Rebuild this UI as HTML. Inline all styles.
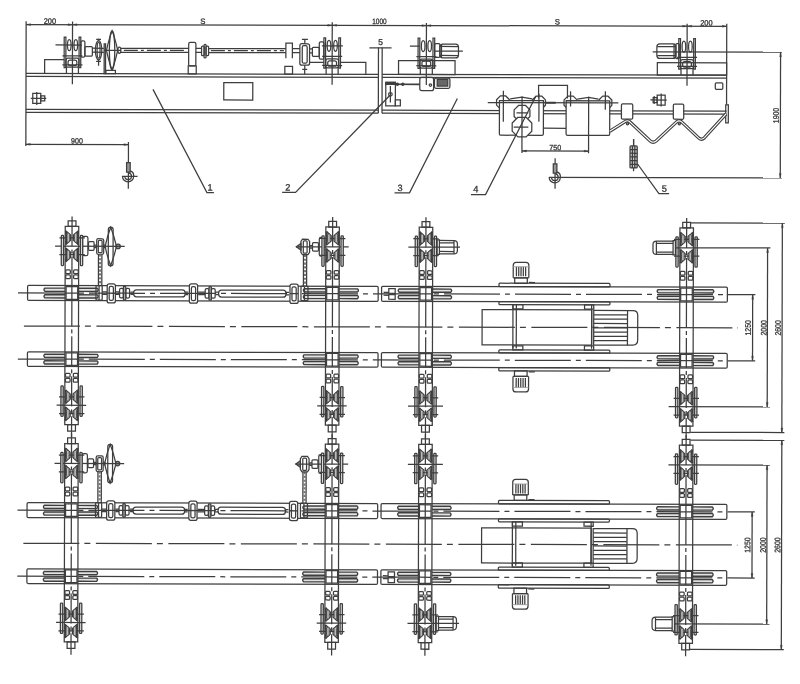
<!DOCTYPE html>
<html><head><meta charset="utf-8"><title>Crane drawing</title>
<style>
html,body{margin:0;padding:0;background:#fff;}
body{width:800px;height:684px;overflow:hidden;font-family:"Liberation Sans",sans-serif;}
svg{display:block;filter:grayscale(1) blur(0.35px);}
svg text{font-family:"Liberation Sans",sans-serif;fill:#333;stroke:#333;stroke-width:0.3;}
</style></head><body>
<svg width="800" height="684" viewBox="0 0 800 684">
<rect x="0" y="0" width="800" height="684" fill="#fff" stroke="none"/>
<g transform="rotate(0.14)" fill="none" stroke="#3e3e3e" stroke-width="1.25" stroke-linecap="butt">
<path d="M26.2 21.2L26.2 146"/>
<path d="M26.2 24.5L726.8 24.5"/>
<path d="M72.6 21.4L72.6 84"/>
<path d="M332.3 21.4L332.3 84"/>
<path d="M426.5 22L426.5 84"/>
<path d="M687.2 22L687.2 84"/>
<path d="M726.8 22L726.8 103"/>
<path d="M26.2 24.5L30.7 23.6L30.7 25.4Z" fill="#3e3e3e" stroke-width="0.4"/>
<path d="M72.6 24.5L68.1 25.4L68.1 23.6Z" fill="#3e3e3e" stroke-width="0.4"/>
<path d="M72.6 24.5L77.1 23.6L77.1 25.4Z" fill="#3e3e3e" stroke-width="0.4"/>
<path d="M332.3 24.5L327.8 25.4L327.8 23.6Z" fill="#3e3e3e" stroke-width="0.4"/>
<path d="M332.3 24.5L336.8 23.6L336.8 25.4Z" fill="#3e3e3e" stroke-width="0.4"/>
<path d="M426.5 24.5L422 25.4L422 23.6Z" fill="#3e3e3e" stroke-width="0.4"/>
<path d="M426.5 24.5L431 23.6L431 25.4Z" fill="#3e3e3e" stroke-width="0.4"/>
<path d="M687.2 24.5L682.7 25.4L682.7 23.6Z" fill="#3e3e3e" stroke-width="0.4"/>
<path d="M687.2 24.5L691.7 23.6L691.7 25.4Z" fill="#3e3e3e" stroke-width="0.4"/>
<path d="M726.8 24.5L722.3 25.4L722.3 23.6Z" fill="#3e3e3e" stroke-width="0.4"/>
<text x="50" y="23.6" font-size="7.8" text-anchor="middle" textLength="12.4" lengthAdjust="spacingAndGlyphs">200</text>
<text x="203" y="23.4" font-size="7.8" text-anchor="middle">S</text>
<text x="379.5" y="23.2" font-size="7.8" text-anchor="middle" textLength="14.4" lengthAdjust="spacingAndGlyphs">1000</text>
<text x="557.5" y="23.2" font-size="7.8" text-anchor="middle">S</text>
<text x="706.4" y="23.8" font-size="7.8" text-anchor="middle" textLength="12.4" lengthAdjust="spacingAndGlyphs">200</text>
<path d="M26.2 73.4L378.6 73.4"/>
<path d="M382.3 73.4L726.8 73.4"/>
<path d="M26.2 76.4L378.6 76.4"/>
<path d="M382.3 76.4L726.8 76.4"/>
<path d="M26.2 109.3L378.6 109.3"/>
<path d="M382.3 109.3L726.8 109.3"/>
<path d="M26.2 112.3L378.6 112.3"/>
<path d="M382.3 112.3L726.8 112.3"/>
<rect x="224" y="82" width="29" height="17.4"/>
<rect x="33" y="93.3" width="8" height="10"/>
<path d="M37 91.8L37 104.8"/>
<path d="M31 98.3L46.5 98.3"/>
<rect x="41" y="95.8" width="4" height="5"/>
<path d="M378.6 46.6L378.6 112.3"/>
<path d="M382.3 46.6L382.3 112.3"/>
<path d="M369.5 46.9L391.7 46.9"/>
<text x="380.6" y="44.2" font-size="8.4" text-anchor="middle">5</text>
<path d="M44.8 73.4V59.4H64.3"/>
<rect x="64.3" y="37" width="1.7" height="30.4"/>
<rect x="79.2" y="37" width="1.7" height="30.4"/>
<ellipse cx="69.4" cy="45" rx="1.8" ry="5.5"/>
<ellipse cx="75.9" cy="45" rx="1.8" ry="5.5"/>
<path d="M62.6 55.6L82.6 55.6"/>
<path d="M62.6 64.7L82.6 64.7"/>
<rect x="66.2" y="58" width="12.8" height="9" rx="2"/>
<rect x="68.2" y="60" width="8.8" height="5.4" rx="2"/>
<path d="M66.6 67L66.6 73.4"/>
<path d="M78.6 67L78.6 73.4"/>
<rect x="81" y="40.6" width="4" height="16.4" rx="1.5"/>
<rect x="85" y="46.4" width="7.5" height="9.4" rx="1"/>
<path d="M55.6 44.8L82 44.8"/>
<path d="M92.5 48L104 48"/>
<path d="M92.5 52L104 52"/>
<ellipse cx="98.7" cy="50" rx="3.2" ry="9.6"/>
<ellipse cx="98.7" cy="50" rx="1.5" ry="8"/>
<path d="M98.7 38.5L98.7 40.4"/>
<path d="M96.3 39.2L101.1 39.2"/>
<path d="M98.7 59.6L98.7 65.5"/>
<path d="M96.3 61.2L101.1 61.2"/>
<rect x="104.3" y="43.7" width="1.4" height="29.7"/>
<rect x="106" y="70" width="9.6" height="3.4"/>
<ellipse cx="112.2" cy="50" rx="2.7" ry="19.4"/>
<path d="M106.6 50Q109.2 38 112.2 30.6Q115.2 38 117.8 50Q115.2 62 112.2 69.4Q109.2 62 106.6 50Z"/>
<path d="M104 50L121 50"/>
<ellipse cx="119.5" cy="50" rx="1.5" ry="3.1"/>
<path d="M121 48L188.8 48"/>
<path d="M121 52L188.8 52"/>
<path d="M196 48L201.7 48"/>
<path d="M196 52L201.7 52"/>
<path d="M208.7 48L286 48"/>
<path d="M208.7 52L286 52"/>
<path d="M124 50L186 50" stroke-dasharray="14 3 3 3"/>
<path d="M211 50L284 50" stroke-dasharray="14 3 3 3"/>
<rect x="188.8" y="42" width="7.2" height="23.5" rx="1.5"/>
<rect x="188.4" y="65.5" width="8" height="7.9"/>
<rect x="201.7" y="45.6" width="2.6" height="9.6" rx="1"/>
<rect x="206.1" y="45.6" width="2.6" height="9.6" rx="1"/>
<rect x="204.2" y="43.8" width="2" height="13.6" rx="1"/>
<path d="M286 57.5V42.5H292.5V57.5"/>
<path d="M292.5 48L300 48"/>
<path d="M292.5 52L300 52"/>
<rect x="285" y="65.6" width="7.7" height="7.8"/>
<rect x="300" y="43" width="9.7" height="21.4" rx="2"/>
<rect x="302.4" y="45" width="4.9" height="17.4" rx="1.5"/>
<path d="M304.9 43L304.9 38.7"/>
<path d="M302 38.7L308 38.7"/>
<path d="M304.9 64.4L304.9 73.4"/>
<path d="M302.4 68.7L307.4 68.7"/>
<path d="M309.7 48L312.5 48"/>
<path d="M309.7 52L312.5 52"/>
<rect x="312.5" y="46.6" width="6.9" height="9" rx="1"/>
<rect x="319.4" y="41" width="4.6" height="17.4" rx="1.5"/>
<rect x="324" y="37" width="1.7" height="30.4"/>
<rect x="338.9" y="37" width="1.7" height="30.4"/>
<ellipse cx="329.1" cy="45" rx="1.8" ry="5.5"/>
<ellipse cx="335.6" cy="45" rx="1.8" ry="5.5"/>
<path d="M322.3 55.6L342.3 55.6"/>
<path d="M322.3 64.7L342.3 64.7"/>
<rect x="325.9" y="58" width="12.8" height="9" rx="2"/>
<rect x="327.9" y="60" width="8.8" height="5.4" rx="2"/>
<path d="M326.3 67L326.3 73.4"/>
<path d="M338.3 67L338.3 73.4"/>
<path d="M322 45L343 45"/>
<path d="M310 61.5L324 61.5"/>
<path d="M340.6 61.5H366V73.4"/>
<rect x="398.7" y="59.6" width="56.5" height="13.8"/>
<rect x="418.2" y="37" width="1.7" height="30.4"/>
<rect x="433.1" y="37" width="1.7" height="30.4"/>
<ellipse cx="423.3" cy="45" rx="1.8" ry="5.5"/>
<ellipse cx="429.8" cy="45" rx="1.8" ry="5.5"/>
<path d="M416.5 55.6L436.5 55.6"/>
<path d="M416.5 64.7L436.5 64.7"/>
<rect x="420.1" y="58" width="12.8" height="9" rx="2"/>
<rect x="422.1" y="60" width="8.8" height="5.4" rx="2"/>
<path d="M420.5 67L420.5 73.4"/>
<path d="M432.5 67L432.5 73.4"/>
<path d="M410 45L420 45"/>
<rect x="434.8" y="42.6" width="5.2" height="13.6" rx="1"/>
<rect x="440" y="43" width="18.6" height="13.8" rx="3"/>
<path d="M441.6 43L441.6 56.8"/>
<path d="M440 45.4L458.4 45.4"/>
<path d="M440 54.4L458.4 54.4"/>
<path d="M434 50L463 50"/>
<rect x="420" y="76.4" width="13.8" height="13.2" rx="2"/>
<rect x="434.7" y="77" width="15.4" height="10.2" rx="1.5"/>
<rect x="437.4" y="78.4" width="10.6" height="6.6" fill="#666"/>
<circle cx="430.6" cy="84" r="1.2"/>
<path d="M394 83.3L420 83.3" stroke-width="1.6"/>
<circle cx="397.6" cy="83.3" r="1.1" fill="#3e3e3e"/>
<circle cx="403" cy="83.3" r="1.1" fill="#3e3e3e"/>
<rect x="386" y="81.4" width="9.6" height="23.6"/>
<rect x="386" y="81.4" width="9.6" height="2" fill="#3e3e3e"/>
<path d="M390.6 85L390.6 101.5"/>
<circle cx="390.6" cy="93.4" r="1.8"/>
<rect x="395.6" y="99" width="5" height="6"/>
<rect x="657.5" y="61.1" width="69.3" height="12.3"/>
<rect x="678.9" y="37" width="1.7" height="30.4"/>
<rect x="693.8" y="37" width="1.7" height="30.4"/>
<ellipse cx="684" cy="45" rx="1.8" ry="5.5"/>
<ellipse cx="690.5" cy="45" rx="1.8" ry="5.5"/>
<path d="M677.2 55.6L697.2 55.6"/>
<path d="M677.2 64.7L697.2 64.7"/>
<rect x="680.8" y="58" width="12.8" height="9" rx="2"/>
<rect x="682.8" y="60" width="8.8" height="5.4" rx="2"/>
<path d="M681.2 67L681.2 73.4"/>
<path d="M693.2 67L693.2 73.4"/>
<rect x="676" y="42" width="3.4" height="15" rx="1"/>
<rect x="657" y="42.2" width="19" height="14.6" rx="3"/>
<path d="M674.2 42.2L674.2 56.8"/>
<path d="M657.4 45L676 45"/>
<path d="M657.4 54L676 54"/>
<path d="M652.8 50.3L782 50.3"/>
<rect x="715.5" y="81" width="7.5" height="6.5" rx="1"/>
<rect x="657.4" y="93.4" width="8" height="10"/>
<path d="M661.4 92L661.4 105"/>
<path d="M650.6 98.4L667 98.4"/>
<rect x="653.4" y="96" width="4" height="5"/>
<path d="M654.4 94.4L654.4 102.4"/>
<rect x="726" y="103" width="2.6" height="18"/>
<path d="M538.8 97V84.1H567.7V97"/>
<path d="M509.8 103.9L506 107.7L500.6 107.7L496.8 103.9L496.8 98.5L500.6 94.7L506 94.7L509.8 98.5Z" stroke-linejoin="round"/>
<path d="M545.7 103.9L541.9 107.7L536.5 107.7L532.7 103.9L532.7 98.5L536.5 94.7L541.9 94.7L545.7 98.5Z" stroke-linejoin="round"/>
<path d="M577.3 103.9L573.5 107.7L568.1 107.7L564.3 103.9L564.3 98.5L568.1 94.7L573.5 94.7L577.3 98.5Z" stroke-linejoin="round"/>
<path d="M612.1 103.9L608.3 107.7L602.9 107.7L599.1 103.9L599.1 98.5L602.9 94.7L608.3 94.7L612.1 98.5Z" stroke-linejoin="round"/>
<path d="M499.7 99.3H543.7V132.4Q543.7 134 542.1 134H501.3Q499.7 134 499.7 132.4Z" fill="#fff"/>
<path d="M566.4 99.3H610V132.4Q610 134 608.4 134H568Q566.4 134 566.4 132.4Z" fill="#fff"/>
<path d="M510.4 97.6L522.2 95.9L532.4 97.6"/>
<path d="M577.6 97.6L588.9 95.9L598.6 97.6"/>
<path d="M503.6 89.6L503.6 120.4"/>
<path d="M539.2 92.4L539.2 120.4"/>
<path d="M570.8 89.8L570.8 105.2"/>
<path d="M605.6 89.8L605.6 108.2"/>
<path d="M488 101.4L618.6 101.4"/>
<path d="M543.7 126.9L566.4 126.9"/>
<path d="M546 101.4L556 101.4" stroke-width="1.9"/>
<path d="M530.2 115.2L525.6 119.8L519 119.8L514.4 115.2L514.4 108.6L519 104L525.6 104L530.2 108.6Z" stroke-linejoin="round"/>
<path d="M532.1 129.9L526.4 135.6L518.2 135.6L512.5 129.9L512.5 121.7L518.2 116L526.4 116L532.1 121.7Z" fill="#fff" stroke-linejoin="round"/>
<path d="M516.8 111.7L528.6 111.7"/>
<path d="M514 125.8L528.6 125.8"/>
<path d="M522.3 95.2L522.3 151.7"/>
<path d="M588.9 95.2L588.9 151.7"/>
<path d="M522.4 149.7L589 149.7"/>
<path d="M522.4 149.7L526.9 148.8L526.9 150.6Z" fill="#3e3e3e" stroke-width="0.4"/>
<path d="M589 149.7L584.5 150.6L584.5 148.8Z" fill="#3e3e3e" stroke-width="0.4"/>
<text x="555.6" y="148.9" font-size="7.8" text-anchor="middle" textLength="11.8" lengthAdjust="spacingAndGlyphs">750</text>
<path d="M610 129.8L625.4 120Q627.6 118.4 629.8 120L650.6 139.4Q653.4 141.8 656.4 139.4L677.2 120Q679.4 118.4 681.6 120L699.2 136.4Q702 138.8 704.8 136L726.4 112" stroke-width="3.3" stroke-linejoin="round"/>
<path d="M610 129.8L625.4 120Q627.6 118.4 629.8 120L650.6 139.4Q653.4 141.8 656.4 139.4L677.2 120Q679.4 118.4 681.6 120L699.2 136.4Q702 138.8 704.8 136L726.4 112" stroke-width="1.1" stroke="#fff" stroke-linejoin="round"/>
<rect x="621.7" y="102.4" width="11.3" height="15.2" rx="1.2" fill="#fff"/>
<rect x="673.6" y="102.4" width="10.4" height="15.2" rx="1.2" fill="#fff"/>
<circle cx="627.8" cy="122.2" r="1.1"/>
<circle cx="679.6" cy="122.2" r="1.1"/>
<path d="M634 137.4L634 144.4" stroke-width="1.4"/>
<rect x="630.4" y="144.4" width="7.2" height="22" rx="1" fill="#ccc"/>
<path d="M632.8 144.4L632.8 166.4"/>
<path d="M635.2 144.4L635.2 166.4"/>
<path d="M630.4 148.1L637.6 148.1"/>
<path d="M630.4 151.7L637.6 151.7"/>
<path d="M630.4 155.4L637.6 155.4"/>
<path d="M630.4 159.1L637.6 159.1"/>
<path d="M630.4 162.8L637.6 162.8"/>
<path d="M634 166.4L634 169.6"/>
<path d="M555.5 156.8L555.5 187.5"/>
<rect x="553.7" y="162.4" width="3.6" height="9.4" fill="#999"/>
<path d="M549.6 176A5.6 5.6 0 0 0 560.8 176Q561.1 171.6 557.3 170.6"/>
<path d="M552 176A3.3 3.3 0 0 0 558.6 176Q558.7 173.4 555.9 172.6"/>
<path d="M549.4 176L782.4 176"/>
<path d="M780.7 50.3L780.7 176"/>
<path d="M780.7 50.3L781.6 54.8L779.8 54.8Z" fill="#3e3e3e" stroke-width="0.4"/>
<path d="M780.7 176L779.8 171.5L781.6 171.5Z" fill="#3e3e3e" stroke-width="0.4"/>
<text x="779" y="113.6" font-size="8" text-anchor="middle" transform="rotate(-90 779 113.6)" textLength="15.4" lengthAdjust="spacingAndGlyphs">1900</text>
<path d="M128.8 141.7L128.8 188.5"/>
<rect x="127" y="162.4" width="3.6" height="9.4" fill="#999"/>
<path d="M122.9 176A5.6 5.6 0 0 0 134.1 176Q134.4 171.6 130.6 170.6"/>
<path d="M125.3 176A3.3 3.3 0 0 0 131.9 176Q132 173.4 129.2 172.6"/>
<path d="M26.2 144.3L128.8 144.3"/>
<path d="M26.2 144.3L30.7 143.4L30.7 145.2Z" fill="#3e3e3e" stroke-width="0.4"/>
<path d="M128.8 144.3L124.3 145.2L124.3 143.4Z" fill="#3e3e3e" stroke-width="0.4"/>
<text x="77.3" y="143.4" font-size="7.8" text-anchor="middle" textLength="11.8" lengthAdjust="spacingAndGlyphs">900</text>
<path d="M122.4 176L138 176"/>
<path d="M153.2 89L207.4 192H214.4"/>
<text x="210.6" y="189.9" font-size="9.2" text-anchor="middle">1</text>
<path d="M390 94.6L296 191.7H282.6"/>
<text x="288.2" y="189.9" font-size="9.2" text-anchor="middle">2</text>
<path d="M457.6 97.4L410 191.9H395"/>
<text x="400.6" y="190.1" font-size="9.2" text-anchor="middle">3</text>
<path d="M536.2 94.6L486 193.4H471.4"/>
<text x="476.4" y="191" font-size="9.2" text-anchor="middle">4</text>
<path d="M637.8 162.2L659.4 192.1H669.6"/>
<text x="664.9" y="190.2" font-size="9.2" text-anchor="middle">5</text>
<g transform="translate(0.7 0)">
<rect x="27.6" y="285.4" width="350.6" height="15" rx="1.2"/>
<rect x="381.6" y="285.4" width="345.8" height="15" rx="1.2"/>
<rect x="27.6" y="351.7" width="350.6" height="14.6" rx="1.2"/>
<rect x="381.6" y="351.7" width="345.8" height="14.6" rx="1.2"/>
<path d="M18 292.9L755.4 292.9" stroke-dasharray="56 5 5 5"/>
<path d="M18 359L755.4 359" stroke-dasharray="56 5 5 5"/>
<path d="M24 326L738 326" stroke-dasharray="56 5 6 5.5"/>
<rect x="388.8" y="287.7" width="6.4" height="4.6"/>
<rect x="388.8" y="293.7" width="6.4" height="4.6"/>
<path d="M383.6 291.5L388.8 291.5"/>
<path d="M383.6 294.3L388.8 294.3"/>
<path d="M65.1 288H44.9Q43.1 289.6 44.9 291.2H65.1" stroke-width="1.4" fill="#e2e2e2"/>
<path d="M78.6 288H97.3Q99.1 289.6 97.3 291.2H78.6" stroke-width="1.4" fill="#e2e2e2"/>
<path d="M65.1 294.6H44.9Q43.1 296.2 44.9 297.8H65.1" stroke-width="1.4" fill="#e2e2e2"/>
<path d="M78.6 294.6H97.3Q99.1 296.2 97.3 297.8H78.6" stroke-width="1.4" fill="#e2e2e2"/>
<path d="M65.1 354.1H44.9Q43.1 355.7 44.9 357.3H65.1" stroke-width="1.4" fill="#e2e2e2"/>
<path d="M78.6 354.1H97.3Q99.1 355.7 97.3 357.3H78.6" stroke-width="1.4" fill="#e2e2e2"/>
<path d="M65.1 360.7H44.9Q43.1 362.3 44.9 363.9H65.1" stroke-width="1.4" fill="#e2e2e2"/>
<path d="M78.6 360.7H97.3Q99.1 362.3 97.3 363.9H78.6" stroke-width="1.4" fill="#e2e2e2"/>
<path d="M325.8 288H304.3Q302.5 289.6 304.3 291.2H325.8" stroke-width="1.4" fill="#e2e2e2"/>
<path d="M339.2 288H357.5Q359.3 289.6 357.5 291.2H339.2" stroke-width="1.4" fill="#e2e2e2"/>
<path d="M325.8 294.6H304.3Q302.5 296.2 304.3 297.8H325.8" stroke-width="1.4" fill="#e2e2e2"/>
<path d="M339.2 294.6H357.5Q359.3 296.2 357.5 297.8H339.2" stroke-width="1.4" fill="#e2e2e2"/>
<path d="M325.8 354.1H304.3Q302.5 355.7 304.3 357.3H325.8" stroke-width="1.4" fill="#e2e2e2"/>
<path d="M339.2 354.1H357.5Q359.3 355.7 357.5 357.3H339.2" stroke-width="1.4" fill="#e2e2e2"/>
<path d="M325.8 360.7H304.3Q302.5 362.3 304.3 363.9H325.8" stroke-width="1.4" fill="#e2e2e2"/>
<path d="M339.2 360.7H357.5Q359.3 362.3 357.5 363.9H339.2" stroke-width="1.4" fill="#e2e2e2"/>
<path d="M419.1 288H399.1Q397.3 289.6 399.1 291.2H419.1" stroke-width="1.4" fill="#e2e2e2"/>
<path d="M432.6 288H450.7Q452.5 289.6 450.7 291.2H432.6" stroke-width="1.4" fill="#e2e2e2"/>
<path d="M419.1 294.6H399.1Q397.3 296.2 399.1 297.8H419.1" stroke-width="1.4" fill="#e2e2e2"/>
<path d="M432.6 294.6H450.7Q452.5 296.2 450.7 297.8H432.6" stroke-width="1.4" fill="#e2e2e2"/>
<path d="M419.1 354.1H399.1Q397.3 355.7 399.1 357.3H419.1" stroke-width="1.4" fill="#e2e2e2"/>
<path d="M432.6 354.1H450.7Q452.5 355.7 450.7 357.3H432.6" stroke-width="1.4" fill="#e2e2e2"/>
<path d="M419.1 360.7H399.1Q397.3 362.3 399.1 363.9H419.1" stroke-width="1.4" fill="#e2e2e2"/>
<path d="M432.6 360.7H450.7Q452.5 362.3 450.7 363.9H432.6" stroke-width="1.4" fill="#e2e2e2"/>
<path d="M679.8 288H658.1Q656.3 289.6 658.1 291.2H679.8" stroke-width="1.4" fill="#e2e2e2"/>
<path d="M693.2 288H712.9Q714.7 289.6 712.9 291.2H693.2" stroke-width="1.4" fill="#e2e2e2"/>
<path d="M679.8 294.6H658.1Q656.3 296.2 658.1 297.8H679.8" stroke-width="1.4" fill="#e2e2e2"/>
<path d="M693.2 294.6H712.9Q714.7 296.2 712.9 297.8H693.2" stroke-width="1.4" fill="#e2e2e2"/>
<path d="M679.8 354.1H658.1Q656.3 355.7 658.1 357.3H679.8" stroke-width="1.4" fill="#e2e2e2"/>
<path d="M693.2 354.1H712.9Q714.7 355.7 712.9 357.3H693.2" stroke-width="1.4" fill="#e2e2e2"/>
<path d="M679.8 360.7H658.1Q656.3 362.3 658.1 363.9H679.8" stroke-width="1.4" fill="#e2e2e2"/>
<path d="M693.2 360.7H712.9Q714.7 362.3 712.9 363.9H693.2" stroke-width="1.4" fill="#e2e2e2"/>
<rect x="499" y="282" width="111" height="3.4" rx="1"/>
<rect x="499" y="300.4" width="111" height="3" rx="1"/>
<rect x="499" y="348.7" width="111" height="3" rx="1"/>
<rect x="499" y="366.3" width="111" height="3.4" rx="1"/>
<rect x="514.7" y="276.5" width="12.6" height="5.5"/>
<path d="M513.2 276.5V264Q513.2 261 516.2 261H525.8Q528.8 261 528.8 264V276.5"/>
<path d="M513.2 276.5L528.8 276.5"/>
<path d="M516.4 275L516.4 265.5"/>
<path d="M518.7 275L518.7 265.5"/>
<path d="M521 275L521 265.5"/>
<path d="M523.3 275L523.3 265.5"/>
<path d="M525.6 275L525.6 265.5"/>
<path d="M513.2 265.5L528.8 265.5" stroke-width="0.8" stroke="#999"/>
<rect x="514.7" y="369.7" width="12.6" height="5.5"/>
<path d="M513.2 375.2V387.7Q513.2 390.7 516.2 390.7H525.8Q528.8 390.7 528.8 387.7V375.2"/>
<path d="M513.2 375.2L528.8 375.2"/>
<path d="M516.4 376.7L516.4 386.2"/>
<path d="M518.7 376.7L518.7 386.2"/>
<path d="M521 376.7L521 386.2"/>
<path d="M523.3 376.7L523.3 386.2"/>
<path d="M525.6 376.7L525.6 386.2"/>
<path d="M513.2 386.2L528.8 386.2" stroke-width="0.8" stroke="#999"/>
<path d="M529 281.2L535 281.2"/>
<path d="M529 370.5L535 370.5"/>
<rect x="513" y="303.4" width="10" height="4.2"/>
<rect x="584.6" y="303.4" width="9.2" height="4.2"/>
<rect x="513" y="344.5" width="10" height="4.2"/>
<rect x="584.6" y="344.5" width="9.2" height="4.2"/>
<rect x="482.2" y="308.4" width="109.6" height="35.2"/>
<path d="M513 303.4L513 347.2"/>
<path d="M516.4 303.4L516.4 347.2"/>
<path d="M591.7 303.4L591.7 347.2"/>
<path d="M593.8 308.4L593.8 343.6"/>
<path d="M593.8 309H633Q637.8 309 637.8 313.8V338.8Q637.8 343.6 633 343.6H593.8"/>
<path d="M627.6 309L627.6 343.6"/>
<path d="M594 313.3L627.4 313.3"/>
<path d="M594 317.6L627.4 317.6"/>
<path d="M594 322L627.4 322"/>
<path d="M594 326.3L627.4 326.3"/>
<path d="M594 330.6L627.4 330.6"/>
<path d="M594 334.9L627.4 334.9"/>
<path d="M594 339.2L627.4 339.2"/>
<rect x="82.4" y="236.1" width="5.4" height="19.4" rx="1.8"/>
<rect x="88.4" y="241.5" width="5.6" height="8.6" rx="1"/>
<rect x="96.6" y="238.5" width="7" height="15.6" rx="1.5"/>
<rect x="98.2" y="240.1" width="3.8" height="12.4" rx="1"/>
<path d="M94 244.9L96.6 244.9"/>
<path d="M94 247.3L96.6 247.3"/>
<path d="M103.6 244.9L106 244.9"/>
<path d="M103.6 247.3L106 247.3"/>
<rect x="108.2" y="226.9" width="4.8" height="38.6" rx="2.4"/>
<path d="M105 246.1Q107.4 235.1 110.6 226.9Q113.8 235.1 116.4 246.1Q113.8 257.1 110.6 265.5Q107.4 257.1 105 246.1Z"/>
<circle cx="118" cy="246.1" r="2.2" fill="#999"/>
<path d="M55 246.1L124.6 246.1"/>
<path d="M98.4 254.1L98.4 285.4"/>
<path d="M101.8 254.1L101.8 285.4"/>
<path d="M100.1 254.1L100.1 285.4" stroke-width="2.2" stroke-dasharray="2.2 1.6" stroke="#777"/>
<rect x="96" y="285.3" width="6.2" height="14.6" rx="1"/>
<path d="M99.1 285.3L99.1 299.9"/>
<path d="M102.2 291.7L107 291.7"/>
<path d="M102.2 294.1L107 294.1"/>
<rect x="107.2" y="283.5" width="8.2" height="19.2" rx="2" fill="#fff"/>
<rect x="109.2" y="286.1" width="4.2" height="14" rx="1.6"/>
<path d="M107.2 292.9L115.4 292.9" stroke-width="1.4"/>
<path d="M116 291.7L120 291.7"/>
<path d="M116 294.1L120 294.1"/>
<rect x="119.6" y="288.1" width="3.8" height="9.6" rx="1.4" fill="#fff"/>
<rect x="125.8" y="288.1" width="3.8" height="9.6" rx="1.4" fill="#fff"/>
<rect x="123.4" y="286.1" width="2.4" height="13.6" rx="0.8" fill="#aaa"/>
<path d="M118.6 292.9L130.6 292.9" stroke-width="1.3"/>
<rect x="133.6" y="289.5" width="51.6" height="7" rx="3"/>
<path d="M130.6 291.7L133.6 291.7"/>
<path d="M130.6 294.1L133.6 294.1"/>
<path d="M185.2 291.7L188.2 291.7"/>
<path d="M185.2 294.1L188.2 294.1"/>
<rect x="189.4" y="283.5" width="8.2" height="19.2" rx="2" fill="#fff"/>
<rect x="191.4" y="286.1" width="4.2" height="14" rx="1.6"/>
<path d="M189.4 292.9L197.6 292.9" stroke-width="1.4"/>
<path d="M198.2 291.7L205.6 291.7"/>
<path d="M198.2 294.1L205.6 294.1"/>
<rect x="205.2" y="288.1" width="3.8" height="9.6" rx="1.4" fill="#fff"/>
<rect x="211.4" y="288.1" width="3.8" height="9.6" rx="1.4" fill="#fff"/>
<rect x="209" y="286.1" width="2.4" height="13.6" rx="0.8" fill="#aaa"/>
<path d="M204.2 292.9L216.2 292.9" stroke-width="1.3"/>
<rect x="218.6" y="289.5" width="67.4" height="7" rx="3"/>
<path d="M215.6 291.7L218.6 291.7"/>
<path d="M215.6 294.1L218.6 294.1"/>
<path d="M286 291.7L289 291.7"/>
<path d="M286 294.1L289 294.1"/>
<rect x="290" y="283.5" width="8.2" height="19.2" rx="2" fill="#fff"/>
<rect x="292" y="286.1" width="4.2" height="14" rx="1.6"/>
<path d="M290 292.9L298.2 292.9" stroke-width="1.4"/>
<rect x="301" y="285.3" width="7" height="14.6" rx="1"/>
<path d="M304.5 285.3L304.5 299.9"/>
<path d="M303.4 254.1L303.4 285.4"/>
<path d="M306.6 254.1L306.6 285.4"/>
<path d="M305 254.1L305 285.4" stroke-width="2.2" stroke-dasharray="2.2 1.6" stroke="#777"/>
<path d="M302.4 238.5H307.9L309.5 240.7V251.5L307.9 253.9H302.4L300.8 251.5V240.7Z"/>
<rect x="303.2" y="240.1" width="3.8" height="12.4" rx="1"/>
<path d="M300.8 242.9L296.2 246.1L300.8 249.3Z" fill="#999"/>
<rect x="312.4" y="241.9" width="6" height="8.4" rx="1"/>
<path d="M309.5 244.9L312.4 244.9"/>
<path d="M309.5 247.3L312.4 247.3"/>
<rect x="319.2" y="236.7" width="4.6" height="18.6" rx="1.6"/>
<path d="M296 246.1L348.6 246.1"/>
</g>
<rect x="65.8" y="226.2" width="13.5" height="198.2" fill="none"/>
<rect x="68.7" y="220.6" width="7.8" height="5.6"/>
<rect x="68.7" y="424.4" width="7.8" height="6.6"/>
<rect x="61.9" y="235.1" width="2.3" height="30.4" rx="0.8" fill="#ddd"/>
<rect x="81" y="235.1" width="2.3" height="30.4" rx="0.8" fill="#ddd"/>
<path d="M60 237.7L85.4 237.7"/>
<path d="M60 254.5L85.4 254.5"/>
<path d="M66.5 230.7Q67.7 237.5 66.5 244.3" stroke-width="1.9"/>
<path d="M66.5 230.7L71.2 234.9L71.2 240.1L66.5 244.3"/>
<rect x="67.6" y="233.1" width="2.6" height="8.8" rx="1" fill="#bbb" stroke-width="0.8"/>
<path d="M78.7 230.7Q77.5 237.5 78.7 244.3" stroke-width="1.9"/>
<path d="M78.7 230.7L74 234.9L74 240.1L78.7 244.3"/>
<rect x="75" y="233.1" width="2.6" height="8.8" rx="1" fill="#bbb" stroke-width="0.8"/>
<path d="M66.5 247.9Q67.7 254.7 66.5 261.5" stroke-width="1.9"/>
<path d="M66.5 247.9L71.2 252.1L71.2 257.3L66.5 261.5"/>
<rect x="67.6" y="250.3" width="2.6" height="8.8" rx="1" fill="#bbb" stroke-width="0.8"/>
<path d="M78.7 247.9Q77.5 254.7 78.7 261.5" stroke-width="1.9"/>
<path d="M78.7 247.9L74 252.1L74 257.3L78.7 261.5"/>
<rect x="75" y="250.3" width="2.6" height="8.8" rx="1" fill="#bbb" stroke-width="0.8"/>
<rect x="61.9" y="385.7" width="2.3" height="30.4" rx="0.8" fill="#ddd"/>
<rect x="81" y="385.7" width="2.3" height="30.4" rx="0.8" fill="#ddd"/>
<path d="M60 396.7L85.4 396.7"/>
<path d="M60 413.5L85.4 413.5"/>
<path d="M66.5 389.7Q67.7 396.5 66.5 403.3" stroke-width="1.9"/>
<path d="M66.5 389.7L71.2 393.9L71.2 399.1L66.5 403.3"/>
<rect x="67.6" y="392.1" width="2.6" height="8.8" rx="1" fill="#bbb" stroke-width="0.8"/>
<path d="M78.7 389.7Q77.5 396.5 78.7 403.3" stroke-width="1.9"/>
<path d="M78.7 389.7L74 393.9L74 399.1L78.7 403.3"/>
<rect x="75" y="392.1" width="2.6" height="8.8" rx="1" fill="#bbb" stroke-width="0.8"/>
<path d="M66.5 406.9Q67.7 413.7 66.5 420.5" stroke-width="1.9"/>
<path d="M66.5 406.9L71.2 411.1L71.2 416.3L66.5 420.5"/>
<rect x="67.6" y="409.3" width="2.6" height="8.8" rx="1" fill="#bbb" stroke-width="0.8"/>
<path d="M78.7 406.9Q77.5 413.7 78.7 420.5" stroke-width="1.9"/>
<path d="M78.7 406.9L74 411.1L74 416.3L78.7 420.5"/>
<rect x="75" y="409.3" width="2.6" height="8.8" rx="1" fill="#bbb" stroke-width="0.8"/>
<rect x="66.4" y="269.7" width="4.6" height="3.7" rx="0.9"/>
<rect x="66.4" y="274.7" width="4.6" height="3.7" rx="0.9"/>
<rect x="74.3" y="269.7" width="4.6" height="3.7" rx="0.9"/>
<rect x="74.3" y="274.7" width="4.6" height="3.7" rx="0.9"/>
<rect x="66.4" y="373.3" width="4.6" height="3.7" rx="0.9"/>
<rect x="66.4" y="378.3" width="4.6" height="3.7" rx="0.9"/>
<rect x="74.3" y="373.3" width="4.6" height="3.7" rx="0.9"/>
<rect x="74.3" y="378.3" width="4.6" height="3.7" rx="0.9"/>
<path d="M72.6 216.2L72.6 437.4" stroke-dasharray="30 3 4 3"/>
<rect x="66.8" y="286.5" width="11.6" height="12.6" fill="#fff"/>
<path d="M66.8 292.9L78.4 292.9"/>
<rect x="66.8" y="352.6" width="11.6" height="12.6" fill="#fff"/>
<path d="M66.8 359L78.4 359"/>
<path d="M72.6 286.5L72.6 299.1"/>
<path d="M72.6 352.6L72.6 365.2"/>
<rect x="326.4" y="226.2" width="13.5" height="198.2" fill="none"/>
<rect x="329.3" y="220.6" width="7.8" height="5.6"/>
<rect x="329.3" y="424.4" width="7.8" height="6.6"/>
<rect x="322.5" y="235.1" width="2.3" height="30.4" rx="0.8" fill="#ddd"/>
<rect x="341.6" y="235.1" width="2.3" height="30.4" rx="0.8" fill="#ddd"/>
<path d="M320.6 237.7L346 237.7"/>
<path d="M320.6 254.5L346 254.5"/>
<path d="M327.1 230.7Q328.3 237.5 327.1 244.3" stroke-width="1.9"/>
<path d="M327.1 230.7L331.8 234.9L331.8 240.1L327.1 244.3"/>
<rect x="328.2" y="233.1" width="2.6" height="8.8" rx="1" fill="#bbb" stroke-width="0.8"/>
<path d="M339.3 230.7Q338.1 237.5 339.3 244.3" stroke-width="1.9"/>
<path d="M339.3 230.7L334.6 234.9L334.6 240.1L339.3 244.3"/>
<rect x="335.6" y="233.1" width="2.6" height="8.8" rx="1" fill="#bbb" stroke-width="0.8"/>
<path d="M327.1 247.9Q328.3 254.7 327.1 261.5" stroke-width="1.9"/>
<path d="M327.1 247.9L331.8 252.1L331.8 257.3L327.1 261.5"/>
<rect x="328.2" y="250.3" width="2.6" height="8.8" rx="1" fill="#bbb" stroke-width="0.8"/>
<path d="M339.3 247.9Q338.1 254.7 339.3 261.5" stroke-width="1.9"/>
<path d="M339.3 247.9L334.6 252.1L334.6 257.3L339.3 261.5"/>
<rect x="335.6" y="250.3" width="2.6" height="8.8" rx="1" fill="#bbb" stroke-width="0.8"/>
<rect x="322.5" y="385.7" width="2.3" height="30.4" rx="0.8" fill="#ddd"/>
<rect x="341.6" y="385.7" width="2.3" height="30.4" rx="0.8" fill="#ddd"/>
<path d="M320.6 396.7L346 396.7"/>
<path d="M320.6 413.5L346 413.5"/>
<path d="M327.1 389.7Q328.3 396.5 327.1 403.3" stroke-width="1.9"/>
<path d="M327.1 389.7L331.8 393.9L331.8 399.1L327.1 403.3"/>
<rect x="328.2" y="392.1" width="2.6" height="8.8" rx="1" fill="#bbb" stroke-width="0.8"/>
<path d="M339.3 389.7Q338.1 396.5 339.3 403.3" stroke-width="1.9"/>
<path d="M339.3 389.7L334.6 393.9L334.6 399.1L339.3 403.3"/>
<rect x="335.6" y="392.1" width="2.6" height="8.8" rx="1" fill="#bbb" stroke-width="0.8"/>
<path d="M327.1 406.9Q328.3 413.7 327.1 420.5" stroke-width="1.9"/>
<path d="M327.1 406.9L331.8 411.1L331.8 416.3L327.1 420.5"/>
<rect x="328.2" y="409.3" width="2.6" height="8.8" rx="1" fill="#bbb" stroke-width="0.8"/>
<path d="M339.3 406.9Q338.1 413.7 339.3 420.5" stroke-width="1.9"/>
<path d="M339.3 406.9L334.6 411.1L334.6 416.3L339.3 420.5"/>
<rect x="335.6" y="409.3" width="2.6" height="8.8" rx="1" fill="#bbb" stroke-width="0.8"/>
<rect x="327" y="269.7" width="4.6" height="3.7" rx="0.9"/>
<rect x="327" y="274.7" width="4.6" height="3.7" rx="0.9"/>
<rect x="334.9" y="269.7" width="4.6" height="3.7" rx="0.9"/>
<rect x="334.9" y="274.7" width="4.6" height="3.7" rx="0.9"/>
<rect x="327" y="373.3" width="4.6" height="3.7" rx="0.9"/>
<rect x="327" y="378.3" width="4.6" height="3.7" rx="0.9"/>
<rect x="334.9" y="373.3" width="4.6" height="3.7" rx="0.9"/>
<rect x="334.9" y="378.3" width="4.6" height="3.7" rx="0.9"/>
<path d="M333.2 216.2L333.2 437.4" stroke-dasharray="30 3 4 3"/>
<rect x="327.4" y="286.5" width="11.6" height="12.6" fill="#fff"/>
<path d="M327.4 292.9L339 292.9"/>
<rect x="327.4" y="352.6" width="11.6" height="12.6" fill="#fff"/>
<path d="M327.4 359L339 359"/>
<path d="M333.2 286.5L333.2 299.1"/>
<path d="M333.2 352.6L333.2 365.2"/>
<rect x="419.8" y="226.2" width="13.5" height="198.2" fill="none"/>
<rect x="422.6" y="220.6" width="7.8" height="5.6"/>
<rect x="422.6" y="424.4" width="7.8" height="6.6"/>
<rect x="415.8" y="235.1" width="2.3" height="30.4" rx="0.8" fill="#ddd"/>
<rect x="434.9" y="235.1" width="2.3" height="30.4" rx="0.8" fill="#ddd"/>
<path d="M413.9 237.7L439.3 237.7"/>
<path d="M413.9 254.5L439.3 254.5"/>
<path d="M420.4 230.7Q421.6 237.5 420.4 244.3" stroke-width="1.9"/>
<path d="M420.4 230.7L425.1 234.9L425.1 240.1L420.4 244.3"/>
<rect x="421.5" y="233.1" width="2.6" height="8.8" rx="1" fill="#bbb" stroke-width="0.8"/>
<path d="M432.6 230.7Q431.4 237.5 432.6 244.3" stroke-width="1.9"/>
<path d="M432.6 230.7L427.9 234.9L427.9 240.1L432.6 244.3"/>
<rect x="428.9" y="233.1" width="2.6" height="8.8" rx="1" fill="#bbb" stroke-width="0.8"/>
<path d="M420.4 247.9Q421.6 254.7 420.4 261.5" stroke-width="1.9"/>
<path d="M420.4 247.9L425.1 252.1L425.1 257.3L420.4 261.5"/>
<rect x="421.5" y="250.3" width="2.6" height="8.8" rx="1" fill="#bbb" stroke-width="0.8"/>
<path d="M432.6 247.9Q431.4 254.7 432.6 261.5" stroke-width="1.9"/>
<path d="M432.6 247.9L427.9 252.1L427.9 257.3L432.6 261.5"/>
<rect x="428.9" y="250.3" width="2.6" height="8.8" rx="1" fill="#bbb" stroke-width="0.8"/>
<rect x="415.8" y="385.7" width="2.3" height="30.4" rx="0.8" fill="#ddd"/>
<rect x="434.9" y="385.7" width="2.3" height="30.4" rx="0.8" fill="#ddd"/>
<path d="M413.9 396.7L439.3 396.7"/>
<path d="M413.9 413.5L439.3 413.5"/>
<path d="M420.4 389.7Q421.6 396.5 420.4 403.3" stroke-width="1.9"/>
<path d="M420.4 389.7L425.1 393.9L425.1 399.1L420.4 403.3"/>
<rect x="421.5" y="392.1" width="2.6" height="8.8" rx="1" fill="#bbb" stroke-width="0.8"/>
<path d="M432.6 389.7Q431.4 396.5 432.6 403.3" stroke-width="1.9"/>
<path d="M432.6 389.7L427.9 393.9L427.9 399.1L432.6 403.3"/>
<rect x="428.9" y="392.1" width="2.6" height="8.8" rx="1" fill="#bbb" stroke-width="0.8"/>
<path d="M420.4 406.9Q421.6 413.7 420.4 420.5" stroke-width="1.9"/>
<path d="M420.4 406.9L425.1 411.1L425.1 416.3L420.4 420.5"/>
<rect x="421.5" y="409.3" width="2.6" height="8.8" rx="1" fill="#bbb" stroke-width="0.8"/>
<path d="M432.6 406.9Q431.4 413.7 432.6 420.5" stroke-width="1.9"/>
<path d="M432.6 406.9L427.9 411.1L427.9 416.3L432.6 420.5"/>
<rect x="428.9" y="409.3" width="2.6" height="8.8" rx="1" fill="#bbb" stroke-width="0.8"/>
<rect x="420.3" y="269.7" width="4.6" height="3.7" rx="0.9"/>
<rect x="420.3" y="274.7" width="4.6" height="3.7" rx="0.9"/>
<rect x="428.2" y="269.7" width="4.6" height="3.7" rx="0.9"/>
<rect x="428.2" y="274.7" width="4.6" height="3.7" rx="0.9"/>
<rect x="420.3" y="373.3" width="4.6" height="3.7" rx="0.9"/>
<rect x="420.3" y="378.3" width="4.6" height="3.7" rx="0.9"/>
<rect x="428.2" y="373.3" width="4.6" height="3.7" rx="0.9"/>
<rect x="428.2" y="378.3" width="4.6" height="3.7" rx="0.9"/>
<path d="M426.5 216.2L426.5 437.4" stroke-dasharray="30 3 4 3"/>
<rect x="420.7" y="286.5" width="11.6" height="12.6" fill="#fff"/>
<path d="M420.7 292.9L432.3 292.9"/>
<rect x="420.7" y="352.6" width="11.6" height="12.6" fill="#fff"/>
<path d="M420.7 359L432.3 359"/>
<path d="M426.5 286.5L426.5 299.1"/>
<path d="M426.5 352.6L426.5 365.2"/>
<rect x="680.5" y="226.2" width="13.5" height="198.2" fill="none"/>
<rect x="683.3" y="220.6" width="7.8" height="5.6"/>
<rect x="683.3" y="424.4" width="7.8" height="6.6"/>
<rect x="676.5" y="235.1" width="2.3" height="30.4" rx="0.8" fill="#ddd"/>
<rect x="695.6" y="235.1" width="2.3" height="30.4" rx="0.8" fill="#ddd"/>
<path d="M674.6 237.7L700 237.7"/>
<path d="M674.6 254.5L700 254.5"/>
<path d="M681.1 230.7Q682.3 237.5 681.1 244.3" stroke-width="1.9"/>
<path d="M681.1 230.7L685.8 234.9L685.8 240.1L681.1 244.3"/>
<rect x="682.2" y="233.1" width="2.6" height="8.8" rx="1" fill="#bbb" stroke-width="0.8"/>
<path d="M693.3 230.7Q692.1 237.5 693.3 244.3" stroke-width="1.9"/>
<path d="M693.3 230.7L688.6 234.9L688.6 240.1L693.3 244.3"/>
<rect x="689.6" y="233.1" width="2.6" height="8.8" rx="1" fill="#bbb" stroke-width="0.8"/>
<path d="M681.1 247.9Q682.3 254.7 681.1 261.5" stroke-width="1.9"/>
<path d="M681.1 247.9L685.8 252.1L685.8 257.3L681.1 261.5"/>
<rect x="682.2" y="250.3" width="2.6" height="8.8" rx="1" fill="#bbb" stroke-width="0.8"/>
<path d="M693.3 247.9Q692.1 254.7 693.3 261.5" stroke-width="1.9"/>
<path d="M693.3 247.9L688.6 252.1L688.6 257.3L693.3 261.5"/>
<rect x="689.6" y="250.3" width="2.6" height="8.8" rx="1" fill="#bbb" stroke-width="0.8"/>
<rect x="676.5" y="385.7" width="2.3" height="30.4" rx="0.8" fill="#ddd"/>
<rect x="695.6" y="385.7" width="2.3" height="30.4" rx="0.8" fill="#ddd"/>
<path d="M674.6 396.7L700 396.7"/>
<path d="M674.6 413.5L700 413.5"/>
<path d="M681.1 389.7Q682.3 396.5 681.1 403.3" stroke-width="1.9"/>
<path d="M681.1 389.7L685.8 393.9L685.8 399.1L681.1 403.3"/>
<rect x="682.2" y="392.1" width="2.6" height="8.8" rx="1" fill="#bbb" stroke-width="0.8"/>
<path d="M693.3 389.7Q692.1 396.5 693.3 403.3" stroke-width="1.9"/>
<path d="M693.3 389.7L688.6 393.9L688.6 399.1L693.3 403.3"/>
<rect x="689.6" y="392.1" width="2.6" height="8.8" rx="1" fill="#bbb" stroke-width="0.8"/>
<path d="M681.1 406.9Q682.3 413.7 681.1 420.5" stroke-width="1.9"/>
<path d="M681.1 406.9L685.8 411.1L685.8 416.3L681.1 420.5"/>
<rect x="682.2" y="409.3" width="2.6" height="8.8" rx="1" fill="#bbb" stroke-width="0.8"/>
<path d="M693.3 406.9Q692.1 413.7 693.3 420.5" stroke-width="1.9"/>
<path d="M693.3 406.9L688.6 411.1L688.6 416.3L693.3 420.5"/>
<rect x="689.6" y="409.3" width="2.6" height="8.8" rx="1" fill="#bbb" stroke-width="0.8"/>
<rect x="681" y="269.7" width="4.6" height="3.7" rx="0.9"/>
<rect x="681" y="274.7" width="4.6" height="3.7" rx="0.9"/>
<rect x="688.9" y="269.7" width="4.6" height="3.7" rx="0.9"/>
<rect x="688.9" y="274.7" width="4.6" height="3.7" rx="0.9"/>
<rect x="681" y="373.3" width="4.6" height="3.7" rx="0.9"/>
<rect x="681" y="378.3" width="4.6" height="3.7" rx="0.9"/>
<rect x="688.9" y="373.3" width="4.6" height="3.7" rx="0.9"/>
<rect x="688.9" y="378.3" width="4.6" height="3.7" rx="0.9"/>
<path d="M687.2 216.2L687.2 437.4" stroke-dasharray="30 3 4 3"/>
<rect x="681.4" y="286.5" width="11.6" height="12.6" fill="#fff"/>
<path d="M681.4 292.9L693 292.9"/>
<rect x="681.4" y="352.6" width="11.6" height="12.6" fill="#fff"/>
<path d="M681.4 359L693 359"/>
<path d="M687.2 286.5L687.2 299.1"/>
<path d="M687.2 352.6L687.2 365.2"/>
<path d="M57.6 405.1L87.1 405.1"/>
<path d="M318.2 405.1L347.7 405.1"/>
<rect x="437.7" y="238.9" width="2.3" height="14.4"/>
<path d="M440 239.4H454.5Q458 239.4 458 242.9V249.3Q458 252.8 454.5 252.8H440"/>
<path d="M440 241.8L454.6 241.8"/>
<path d="M440 250.4L454.6 250.4"/>
<path d="M454.6 239.4L454.6 252.8"/>
<rect x="673.7" y="238.9" width="2.3" height="14.4"/>
<path d="M673.7 239.4H657.1Q653.6 239.4 653.6 242.9V249.3Q653.6 252.8 657.1 252.8H673.7"/>
<path d="M673.7 241.8L657 241.8"/>
<path d="M673.7 250.4L657 250.4"/>
<path d="M657 239.4L657 252.8"/>
<path d="M409 246.1L460.6 246.1"/>
<path d="M409 405.1L444 405.1"/>
<path d="M676 246.1L771 246.1"/>
<path d="M669.6 405.1L771 405.1"/>
<path d="M691.6 221.2L785.4 221.2"/>
<path d="M691.6 430.6L785.4 430.6"/>
<path d="M782.9 221.2L782.9 430.6"/>
<path d="M782.9 221.2L783.8 225.7L782 225.7Z" fill="#3e3e3e" stroke-width="0.4"/>
<path d="M782.9 430.6L782 426.1L783.8 426.1Z" fill="#3e3e3e" stroke-width="0.4"/>
<path d="M768.2 246.1L768.2 405.1"/>
<path d="M768.2 246.1L769.1 250.6L767.3 250.6Z" fill="#3e3e3e" stroke-width="0.4"/>
<path d="M768.2 405.1L767.3 400.6L769.1 400.6Z" fill="#3e3e3e" stroke-width="0.4"/>
<path d="M753.4 292.9L753.4 359"/>
<path d="M753.4 292.9L754.3 297.4L752.5 297.4Z" fill="#3e3e3e" stroke-width="0.4"/>
<path d="M753.4 359L752.5 354.5L754.3 354.5Z" fill="#3e3e3e" stroke-width="0.4"/>
<text x="781.6" y="326" font-size="8" text-anchor="middle" transform="rotate(-90 781.6 326)" textLength="15.4" lengthAdjust="spacingAndGlyphs">2600</text>
<text x="767.2" y="326" font-size="8" text-anchor="middle" transform="rotate(-90 767.2 326)" textLength="15.4" lengthAdjust="spacingAndGlyphs">2000</text>
<text x="751.6" y="326" font-size="8" text-anchor="middle" transform="rotate(-90 751.6 326)" textLength="15.4" lengthAdjust="spacingAndGlyphs">1250</text>
<g transform="translate(0.7 0)">
<rect x="27.6" y="502.6" width="350.6" height="15" rx="1.2"/>
<rect x="381.6" y="502.6" width="345.8" height="15" rx="1.2"/>
<rect x="27.6" y="568.9" width="350.6" height="14.6" rx="1.2"/>
<rect x="381.6" y="568.9" width="345.8" height="14.6" rx="1.2"/>
<path d="M18 510.1L755.4 510.1" stroke-dasharray="56 5 5 5"/>
<path d="M18 576.2L755.4 576.2" stroke-dasharray="56 5 5 5"/>
<path d="M24 543.2L738 543.2" stroke-dasharray="56 5 6 5.5"/>
<rect x="388.8" y="571" width="6.4" height="4.6"/>
<rect x="388.8" y="577" width="6.4" height="4.6"/>
<path d="M383.6 574.8L388.8 574.8"/>
<path d="M383.6 577.6L388.8 577.6"/>
<path d="M65.1 505.2H44.9Q43.1 506.8 44.9 508.4H65.1" stroke-width="1.4" fill="#e2e2e2"/>
<path d="M78.6 505.2H97.3Q99.1 506.8 97.3 508.4H78.6" stroke-width="1.4" fill="#e2e2e2"/>
<path d="M65.1 511.8H44.9Q43.1 513.4 44.9 515H65.1" stroke-width="1.4" fill="#e2e2e2"/>
<path d="M78.6 511.8H97.3Q99.1 513.4 97.3 515H78.6" stroke-width="1.4" fill="#e2e2e2"/>
<path d="M65.1 571.3H44.9Q43.1 572.9 44.9 574.5H65.1" stroke-width="1.4" fill="#e2e2e2"/>
<path d="M78.6 571.3H97.3Q99.1 572.9 97.3 574.5H78.6" stroke-width="1.4" fill="#e2e2e2"/>
<path d="M65.1 577.9H44.9Q43.1 579.5 44.9 581.1H65.1" stroke-width="1.4" fill="#e2e2e2"/>
<path d="M78.6 577.9H97.3Q99.1 579.5 97.3 581.1H78.6" stroke-width="1.4" fill="#e2e2e2"/>
<path d="M325.8 505.2H304.3Q302.5 506.8 304.3 508.4H325.8" stroke-width="1.4" fill="#e2e2e2"/>
<path d="M339.2 505.2H357.5Q359.3 506.8 357.5 508.4H339.2" stroke-width="1.4" fill="#e2e2e2"/>
<path d="M325.8 511.8H304.3Q302.5 513.4 304.3 515H325.8" stroke-width="1.4" fill="#e2e2e2"/>
<path d="M339.2 511.8H357.5Q359.3 513.4 357.5 515H339.2" stroke-width="1.4" fill="#e2e2e2"/>
<path d="M325.8 571.3H304.3Q302.5 572.9 304.3 574.5H325.8" stroke-width="1.4" fill="#e2e2e2"/>
<path d="M339.2 571.3H357.5Q359.3 572.9 357.5 574.5H339.2" stroke-width="1.4" fill="#e2e2e2"/>
<path d="M325.8 577.9H304.3Q302.5 579.5 304.3 581.1H325.8" stroke-width="1.4" fill="#e2e2e2"/>
<path d="M339.2 577.9H357.5Q359.3 579.5 357.5 581.1H339.2" stroke-width="1.4" fill="#e2e2e2"/>
<path d="M419.1 505.2H399.1Q397.3 506.8 399.1 508.4H419.1" stroke-width="1.4" fill="#e2e2e2"/>
<path d="M432.6 505.2H450.7Q452.5 506.8 450.7 508.4H432.6" stroke-width="1.4" fill="#e2e2e2"/>
<path d="M419.1 511.8H399.1Q397.3 513.4 399.1 515H419.1" stroke-width="1.4" fill="#e2e2e2"/>
<path d="M432.6 511.8H450.7Q452.5 513.4 450.7 515H432.6" stroke-width="1.4" fill="#e2e2e2"/>
<path d="M419.1 571.3H399.1Q397.3 572.9 399.1 574.5H419.1" stroke-width="1.4" fill="#e2e2e2"/>
<path d="M432.6 571.3H450.7Q452.5 572.9 450.7 574.5H432.6" stroke-width="1.4" fill="#e2e2e2"/>
<path d="M419.1 577.9H399.1Q397.3 579.5 399.1 581.1H419.1" stroke-width="1.4" fill="#e2e2e2"/>
<path d="M432.6 577.9H450.7Q452.5 579.5 450.7 581.1H432.6" stroke-width="1.4" fill="#e2e2e2"/>
<path d="M679.8 505.2H658.1Q656.3 506.8 658.1 508.4H679.8" stroke-width="1.4" fill="#e2e2e2"/>
<path d="M693.2 505.2H712.9Q714.7 506.8 712.9 508.4H693.2" stroke-width="1.4" fill="#e2e2e2"/>
<path d="M679.8 511.8H658.1Q656.3 513.4 658.1 515H679.8" stroke-width="1.4" fill="#e2e2e2"/>
<path d="M693.2 511.8H712.9Q714.7 513.4 712.9 515H693.2" stroke-width="1.4" fill="#e2e2e2"/>
<path d="M679.8 571.3H658.1Q656.3 572.9 658.1 574.5H679.8" stroke-width="1.4" fill="#e2e2e2"/>
<path d="M693.2 571.3H712.9Q714.7 572.9 712.9 574.5H693.2" stroke-width="1.4" fill="#e2e2e2"/>
<path d="M679.8 577.9H658.1Q656.3 579.5 658.1 581.1H679.8" stroke-width="1.4" fill="#e2e2e2"/>
<path d="M693.2 577.9H712.9Q714.7 579.5 712.9 581.1H693.2" stroke-width="1.4" fill="#e2e2e2"/>
<rect x="499" y="499.2" width="111" height="3.4" rx="1"/>
<rect x="499" y="517.6" width="111" height="3" rx="1"/>
<rect x="499" y="565.9" width="111" height="3" rx="1"/>
<rect x="499" y="583.5" width="111" height="3.4" rx="1"/>
<rect x="514.7" y="493.7" width="12.6" height="5.5"/>
<path d="M513.2 493.7V481.2Q513.2 478.2 516.2 478.2H525.8Q528.8 478.2 528.8 481.2V493.7"/>
<path d="M513.2 493.7L528.8 493.7"/>
<path d="M516.4 492.2L516.4 482.7"/>
<path d="M518.7 492.2L518.7 482.7"/>
<path d="M521 492.2L521 482.7"/>
<path d="M523.3 492.2L523.3 482.7"/>
<path d="M525.6 492.2L525.6 482.7"/>
<path d="M513.2 482.7L528.8 482.7" stroke-width="0.8" stroke="#999"/>
<rect x="514.7" y="586.9" width="12.6" height="5.5"/>
<path d="M513.2 592.4V604.9Q513.2 607.9 516.2 607.9H525.8Q528.8 607.9 528.8 604.9V592.4"/>
<path d="M513.2 592.4L528.8 592.4"/>
<path d="M516.4 593.9L516.4 603.4"/>
<path d="M518.7 593.9L518.7 603.4"/>
<path d="M521 593.9L521 603.4"/>
<path d="M523.3 593.9L523.3 603.4"/>
<path d="M525.6 593.9L525.6 603.4"/>
<path d="M513.2 603.4L528.8 603.4" stroke-width="0.8" stroke="#999"/>
<path d="M529 498.4L535 498.4"/>
<path d="M529 587.7L535 587.7"/>
<rect x="513" y="520.6" width="10" height="4.2"/>
<rect x="584.6" y="520.6" width="9.2" height="4.2"/>
<rect x="513" y="561.7" width="10" height="4.2"/>
<rect x="584.6" y="561.7" width="9.2" height="4.2"/>
<rect x="482.2" y="526.6" width="109.6" height="35.2"/>
<path d="M513 520.6L513 564.4"/>
<path d="M516.4 520.6L516.4 564.4"/>
<path d="M591.7 520.6L591.7 564.4"/>
<path d="M593.8 526.6L593.8 561.8"/>
<path d="M593.8 527.2H633Q637.8 527.2 637.8 532V557Q637.8 561.8 633 561.8H593.8"/>
<path d="M627.6 527.2L627.6 561.8"/>
<path d="M594 531.5L627.4 531.5"/>
<path d="M594 535.8L627.4 535.8"/>
<path d="M594 540.2L627.4 540.2"/>
<path d="M594 544.5L627.4 544.5"/>
<path d="M594 548.8L627.4 548.8"/>
<path d="M594 553.1L627.4 553.1"/>
<path d="M594 557.4L627.4 557.4"/>
<rect x="82.4" y="453.3" width="5.4" height="19.4" rx="1.8"/>
<rect x="88.4" y="458.7" width="5.6" height="8.6" rx="1"/>
<rect x="96.6" y="455.7" width="7" height="15.6" rx="1.5"/>
<rect x="98.2" y="457.3" width="3.8" height="12.4" rx="1"/>
<path d="M94 462.1L96.6 462.1"/>
<path d="M94 464.5L96.6 464.5"/>
<path d="M103.6 462.1L106 462.1"/>
<path d="M103.6 464.5L106 464.5"/>
<rect x="108.2" y="444.1" width="4.8" height="38.6" rx="2.4"/>
<path d="M105 463.3Q107.4 452.3 110.6 444.1Q113.8 452.3 116.4 463.3Q113.8 474.3 110.6 482.7Q107.4 474.3 105 463.3Z"/>
<circle cx="118" cy="463.3" r="2.2" fill="#999"/>
<path d="M55 463.3L124.6 463.3"/>
<path d="M98.4 471.3L98.4 502.6"/>
<path d="M101.8 471.3L101.8 502.6"/>
<path d="M100.1 471.3L100.1 502.6" stroke-width="2.2" stroke-dasharray="2.2 1.6" stroke="#777"/>
<rect x="96" y="502.5" width="6.2" height="14.6" rx="1"/>
<path d="M99.1 502.5L99.1 517.1"/>
<path d="M102.2 508.9L107 508.9"/>
<path d="M102.2 511.3L107 511.3"/>
<rect x="107.2" y="500.7" width="8.2" height="19.2" rx="2" fill="#fff"/>
<rect x="109.2" y="503.3" width="4.2" height="14" rx="1.6"/>
<path d="M107.2 510.1L115.4 510.1" stroke-width="1.4"/>
<path d="M116 508.9L120 508.9"/>
<path d="M116 511.3L120 511.3"/>
<rect x="119.6" y="505.3" width="3.8" height="9.6" rx="1.4" fill="#fff"/>
<rect x="125.8" y="505.3" width="3.8" height="9.6" rx="1.4" fill="#fff"/>
<rect x="123.4" y="503.3" width="2.4" height="13.6" rx="0.8" fill="#aaa"/>
<path d="M118.6 510.1L130.6 510.1" stroke-width="1.3"/>
<rect x="133.6" y="506.7" width="51.6" height="7" rx="3"/>
<path d="M130.6 508.9L133.6 508.9"/>
<path d="M130.6 511.3L133.6 511.3"/>
<path d="M185.2 508.9L188.2 508.9"/>
<path d="M185.2 511.3L188.2 511.3"/>
<rect x="189.4" y="500.7" width="8.2" height="19.2" rx="2" fill="#fff"/>
<rect x="191.4" y="503.3" width="4.2" height="14" rx="1.6"/>
<path d="M189.4 510.1L197.6 510.1" stroke-width="1.4"/>
<path d="M198.2 508.9L205.6 508.9"/>
<path d="M198.2 511.3L205.6 511.3"/>
<rect x="205.2" y="505.3" width="3.8" height="9.6" rx="1.4" fill="#fff"/>
<rect x="211.4" y="505.3" width="3.8" height="9.6" rx="1.4" fill="#fff"/>
<rect x="209" y="503.3" width="2.4" height="13.6" rx="0.8" fill="#aaa"/>
<path d="M204.2 510.1L216.2 510.1" stroke-width="1.3"/>
<rect x="218.6" y="506.7" width="67.4" height="7" rx="3"/>
<path d="M215.6 508.9L218.6 508.9"/>
<path d="M215.6 511.3L218.6 511.3"/>
<path d="M286 508.9L289 508.9"/>
<path d="M286 511.3L289 511.3"/>
<rect x="290" y="500.7" width="8.2" height="19.2" rx="2" fill="#fff"/>
<rect x="292" y="503.3" width="4.2" height="14" rx="1.6"/>
<path d="M290 510.1L298.2 510.1" stroke-width="1.4"/>
<rect x="301" y="502.5" width="7" height="14.6" rx="1"/>
<path d="M304.5 502.5L304.5 517.1"/>
<path d="M303.4 471.3L303.4 502.6"/>
<path d="M306.6 471.3L306.6 502.6"/>
<path d="M305 471.3L305 502.6" stroke-width="2.2" stroke-dasharray="2.2 1.6" stroke="#777"/>
<path d="M302.4 455.7H307.9L309.5 457.9V468.7L307.9 471.1H302.4L300.8 468.7V457.9Z"/>
<rect x="303.2" y="457.3" width="3.8" height="12.4" rx="1"/>
<path d="M300.8 460.1L296.2 463.3L300.8 466.5Z" fill="#999"/>
<rect x="312.4" y="459.1" width="6" height="8.4" rx="1"/>
<path d="M309.5 462.1L312.4 462.1"/>
<path d="M309.5 464.5L312.4 464.5"/>
<rect x="319.2" y="453.9" width="4.6" height="18.6" rx="1.6"/>
<path d="M296 463.3L348.6 463.3"/>
</g>
<rect x="65.8" y="443.4" width="13.5" height="198.2" fill="none"/>
<rect x="68.7" y="437.8" width="7.8" height="5.6"/>
<rect x="68.7" y="641.6" width="7.8" height="6.6"/>
<rect x="61.9" y="452.3" width="2.3" height="30.4" rx="0.8" fill="#ddd"/>
<rect x="81" y="452.3" width="2.3" height="30.4" rx="0.8" fill="#ddd"/>
<path d="M60 454.9L85.4 454.9"/>
<path d="M60 471.7L85.4 471.7"/>
<path d="M66.5 447.9Q67.7 454.7 66.5 461.5" stroke-width="1.9"/>
<path d="M66.5 447.9L71.2 452.1L71.2 457.3L66.5 461.5"/>
<rect x="67.6" y="450.3" width="2.6" height="8.8" rx="1" fill="#bbb" stroke-width="0.8"/>
<path d="M78.7 447.9Q77.5 454.7 78.7 461.5" stroke-width="1.9"/>
<path d="M78.7 447.9L74 452.1L74 457.3L78.7 461.5"/>
<rect x="75" y="450.3" width="2.6" height="8.8" rx="1" fill="#bbb" stroke-width="0.8"/>
<path d="M66.5 465.1Q67.7 471.9 66.5 478.7" stroke-width="1.9"/>
<path d="M66.5 465.1L71.2 469.3L71.2 474.5L66.5 478.7"/>
<rect x="67.6" y="467.5" width="2.6" height="8.8" rx="1" fill="#bbb" stroke-width="0.8"/>
<path d="M78.7 465.1Q77.5 471.9 78.7 478.7" stroke-width="1.9"/>
<path d="M78.7 465.1L74 469.3L74 474.5L78.7 478.7"/>
<rect x="75" y="467.5" width="2.6" height="8.8" rx="1" fill="#bbb" stroke-width="0.8"/>
<rect x="61.9" y="602.9" width="2.3" height="30.4" rx="0.8" fill="#ddd"/>
<rect x="81" y="602.9" width="2.3" height="30.4" rx="0.8" fill="#ddd"/>
<path d="M60 613.9L85.4 613.9"/>
<path d="M60 630.7L85.4 630.7"/>
<path d="M66.5 606.9Q67.7 613.7 66.5 620.5" stroke-width="1.9"/>
<path d="M66.5 606.9L71.2 611.1L71.2 616.3L66.5 620.5"/>
<rect x="67.6" y="609.3" width="2.6" height="8.8" rx="1" fill="#bbb" stroke-width="0.8"/>
<path d="M78.7 606.9Q77.5 613.7 78.7 620.5" stroke-width="1.9"/>
<path d="M78.7 606.9L74 611.1L74 616.3L78.7 620.5"/>
<rect x="75" y="609.3" width="2.6" height="8.8" rx="1" fill="#bbb" stroke-width="0.8"/>
<path d="M66.5 624.1Q67.7 630.9 66.5 637.7" stroke-width="1.9"/>
<path d="M66.5 624.1L71.2 628.3L71.2 633.5L66.5 637.7"/>
<rect x="67.6" y="626.5" width="2.6" height="8.8" rx="1" fill="#bbb" stroke-width="0.8"/>
<path d="M78.7 624.1Q77.5 630.9 78.7 637.7" stroke-width="1.9"/>
<path d="M78.7 624.1L74 628.3L74 633.5L78.7 637.7"/>
<rect x="75" y="626.5" width="2.6" height="8.8" rx="1" fill="#bbb" stroke-width="0.8"/>
<rect x="66.4" y="486.9" width="4.6" height="3.7" rx="0.9"/>
<rect x="66.4" y="491.9" width="4.6" height="3.7" rx="0.9"/>
<rect x="74.3" y="486.9" width="4.6" height="3.7" rx="0.9"/>
<rect x="74.3" y="491.9" width="4.6" height="3.7" rx="0.9"/>
<rect x="66.4" y="590.5" width="4.6" height="3.7" rx="0.9"/>
<rect x="66.4" y="595.5" width="4.6" height="3.7" rx="0.9"/>
<rect x="74.3" y="590.5" width="4.6" height="3.7" rx="0.9"/>
<rect x="74.3" y="595.5" width="4.6" height="3.7" rx="0.9"/>
<path d="M72.6 433.4L72.6 654.6" stroke-dasharray="30 3 4 3"/>
<rect x="66.8" y="503.7" width="11.6" height="12.6" fill="#fff"/>
<path d="M66.8 510.1L78.4 510.1"/>
<rect x="66.8" y="569.8" width="11.6" height="12.6" fill="#fff"/>
<path d="M66.8 576.2L78.4 576.2"/>
<path d="M72.6 503.7L72.6 516.3"/>
<path d="M72.6 569.8L72.6 582.4"/>
<rect x="326.4" y="443.4" width="13.5" height="198.2" fill="none"/>
<rect x="329.3" y="437.8" width="7.8" height="5.6"/>
<rect x="329.3" y="641.6" width="7.8" height="6.6"/>
<rect x="322.5" y="452.3" width="2.3" height="30.4" rx="0.8" fill="#ddd"/>
<rect x="341.6" y="452.3" width="2.3" height="30.4" rx="0.8" fill="#ddd"/>
<path d="M320.6 454.9L346 454.9"/>
<path d="M320.6 471.7L346 471.7"/>
<path d="M327.1 447.9Q328.3 454.7 327.1 461.5" stroke-width="1.9"/>
<path d="M327.1 447.9L331.8 452.1L331.8 457.3L327.1 461.5"/>
<rect x="328.2" y="450.3" width="2.6" height="8.8" rx="1" fill="#bbb" stroke-width="0.8"/>
<path d="M339.3 447.9Q338.1 454.7 339.3 461.5" stroke-width="1.9"/>
<path d="M339.3 447.9L334.6 452.1L334.6 457.3L339.3 461.5"/>
<rect x="335.6" y="450.3" width="2.6" height="8.8" rx="1" fill="#bbb" stroke-width="0.8"/>
<path d="M327.1 465.1Q328.3 471.9 327.1 478.7" stroke-width="1.9"/>
<path d="M327.1 465.1L331.8 469.3L331.8 474.5L327.1 478.7"/>
<rect x="328.2" y="467.5" width="2.6" height="8.8" rx="1" fill="#bbb" stroke-width="0.8"/>
<path d="M339.3 465.1Q338.1 471.9 339.3 478.7" stroke-width="1.9"/>
<path d="M339.3 465.1L334.6 469.3L334.6 474.5L339.3 478.7"/>
<rect x="335.6" y="467.5" width="2.6" height="8.8" rx="1" fill="#bbb" stroke-width="0.8"/>
<rect x="322.5" y="602.9" width="2.3" height="30.4" rx="0.8" fill="#ddd"/>
<rect x="341.6" y="602.9" width="2.3" height="30.4" rx="0.8" fill="#ddd"/>
<path d="M320.6 613.9L346 613.9"/>
<path d="M320.6 630.7L346 630.7"/>
<path d="M327.1 606.9Q328.3 613.7 327.1 620.5" stroke-width="1.9"/>
<path d="M327.1 606.9L331.8 611.1L331.8 616.3L327.1 620.5"/>
<rect x="328.2" y="609.3" width="2.6" height="8.8" rx="1" fill="#bbb" stroke-width="0.8"/>
<path d="M339.3 606.9Q338.1 613.7 339.3 620.5" stroke-width="1.9"/>
<path d="M339.3 606.9L334.6 611.1L334.6 616.3L339.3 620.5"/>
<rect x="335.6" y="609.3" width="2.6" height="8.8" rx="1" fill="#bbb" stroke-width="0.8"/>
<path d="M327.1 624.1Q328.3 630.9 327.1 637.7" stroke-width="1.9"/>
<path d="M327.1 624.1L331.8 628.3L331.8 633.5L327.1 637.7"/>
<rect x="328.2" y="626.5" width="2.6" height="8.8" rx="1" fill="#bbb" stroke-width="0.8"/>
<path d="M339.3 624.1Q338.1 630.9 339.3 637.7" stroke-width="1.9"/>
<path d="M339.3 624.1L334.6 628.3L334.6 633.5L339.3 637.7"/>
<rect x="335.6" y="626.5" width="2.6" height="8.8" rx="1" fill="#bbb" stroke-width="0.8"/>
<rect x="327" y="486.9" width="4.6" height="3.7" rx="0.9"/>
<rect x="327" y="491.9" width="4.6" height="3.7" rx="0.9"/>
<rect x="334.9" y="486.9" width="4.6" height="3.7" rx="0.9"/>
<rect x="334.9" y="491.9" width="4.6" height="3.7" rx="0.9"/>
<rect x="327" y="590.5" width="4.6" height="3.7" rx="0.9"/>
<rect x="327" y="595.5" width="4.6" height="3.7" rx="0.9"/>
<rect x="334.9" y="590.5" width="4.6" height="3.7" rx="0.9"/>
<rect x="334.9" y="595.5" width="4.6" height="3.7" rx="0.9"/>
<path d="M333.2 433.4L333.2 654.6" stroke-dasharray="30 3 4 3"/>
<rect x="327.4" y="503.7" width="11.6" height="12.6" fill="#fff"/>
<path d="M327.4 510.1L339 510.1"/>
<rect x="327.4" y="569.8" width="11.6" height="12.6" fill="#fff"/>
<path d="M327.4 576.2L339 576.2"/>
<path d="M333.2 503.7L333.2 516.3"/>
<path d="M333.2 569.8L333.2 582.4"/>
<rect x="419.8" y="443.4" width="13.5" height="198.2" fill="none"/>
<rect x="422.6" y="437.8" width="7.8" height="5.6"/>
<rect x="422.6" y="641.6" width="7.8" height="6.6"/>
<rect x="415.8" y="452.3" width="2.3" height="30.4" rx="0.8" fill="#ddd"/>
<rect x="434.9" y="452.3" width="2.3" height="30.4" rx="0.8" fill="#ddd"/>
<path d="M413.9 454.9L439.3 454.9"/>
<path d="M413.9 471.7L439.3 471.7"/>
<path d="M420.4 447.9Q421.6 454.7 420.4 461.5" stroke-width="1.9"/>
<path d="M420.4 447.9L425.1 452.1L425.1 457.3L420.4 461.5"/>
<rect x="421.5" y="450.3" width="2.6" height="8.8" rx="1" fill="#bbb" stroke-width="0.8"/>
<path d="M432.6 447.9Q431.4 454.7 432.6 461.5" stroke-width="1.9"/>
<path d="M432.6 447.9L427.9 452.1L427.9 457.3L432.6 461.5"/>
<rect x="428.9" y="450.3" width="2.6" height="8.8" rx="1" fill="#bbb" stroke-width="0.8"/>
<path d="M420.4 465.1Q421.6 471.9 420.4 478.7" stroke-width="1.9"/>
<path d="M420.4 465.1L425.1 469.3L425.1 474.5L420.4 478.7"/>
<rect x="421.5" y="467.5" width="2.6" height="8.8" rx="1" fill="#bbb" stroke-width="0.8"/>
<path d="M432.6 465.1Q431.4 471.9 432.6 478.7" stroke-width="1.9"/>
<path d="M432.6 465.1L427.9 469.3L427.9 474.5L432.6 478.7"/>
<rect x="428.9" y="467.5" width="2.6" height="8.8" rx="1" fill="#bbb" stroke-width="0.8"/>
<rect x="415.8" y="602.9" width="2.3" height="30.4" rx="0.8" fill="#ddd"/>
<rect x="434.9" y="602.9" width="2.3" height="30.4" rx="0.8" fill="#ddd"/>
<path d="M413.9 613.9L439.3 613.9"/>
<path d="M413.9 630.7L439.3 630.7"/>
<path d="M420.4 606.9Q421.6 613.7 420.4 620.5" stroke-width="1.9"/>
<path d="M420.4 606.9L425.1 611.1L425.1 616.3L420.4 620.5"/>
<rect x="421.5" y="609.3" width="2.6" height="8.8" rx="1" fill="#bbb" stroke-width="0.8"/>
<path d="M432.6 606.9Q431.4 613.7 432.6 620.5" stroke-width="1.9"/>
<path d="M432.6 606.9L427.9 611.1L427.9 616.3L432.6 620.5"/>
<rect x="428.9" y="609.3" width="2.6" height="8.8" rx="1" fill="#bbb" stroke-width="0.8"/>
<path d="M420.4 624.1Q421.6 630.9 420.4 637.7" stroke-width="1.9"/>
<path d="M420.4 624.1L425.1 628.3L425.1 633.5L420.4 637.7"/>
<rect x="421.5" y="626.5" width="2.6" height="8.8" rx="1" fill="#bbb" stroke-width="0.8"/>
<path d="M432.6 624.1Q431.4 630.9 432.6 637.7" stroke-width="1.9"/>
<path d="M432.6 624.1L427.9 628.3L427.9 633.5L432.6 637.7"/>
<rect x="428.9" y="626.5" width="2.6" height="8.8" rx="1" fill="#bbb" stroke-width="0.8"/>
<rect x="420.3" y="486.9" width="4.6" height="3.7" rx="0.9"/>
<rect x="420.3" y="491.9" width="4.6" height="3.7" rx="0.9"/>
<rect x="428.2" y="486.9" width="4.6" height="3.7" rx="0.9"/>
<rect x="428.2" y="491.9" width="4.6" height="3.7" rx="0.9"/>
<rect x="420.3" y="590.5" width="4.6" height="3.7" rx="0.9"/>
<rect x="420.3" y="595.5" width="4.6" height="3.7" rx="0.9"/>
<rect x="428.2" y="590.5" width="4.6" height="3.7" rx="0.9"/>
<rect x="428.2" y="595.5" width="4.6" height="3.7" rx="0.9"/>
<path d="M426.5 433.4L426.5 654.6" stroke-dasharray="30 3 4 3"/>
<rect x="420.7" y="503.7" width="11.6" height="12.6" fill="#fff"/>
<path d="M420.7 510.1L432.3 510.1"/>
<rect x="420.7" y="569.8" width="11.6" height="12.6" fill="#fff"/>
<path d="M420.7 576.2L432.3 576.2"/>
<path d="M426.5 503.7L426.5 516.3"/>
<path d="M426.5 569.8L426.5 582.4"/>
<rect x="680.5" y="443.4" width="13.5" height="198.2" fill="none"/>
<rect x="683.3" y="437.8" width="7.8" height="5.6"/>
<rect x="683.3" y="641.6" width="7.8" height="6.6"/>
<rect x="676.5" y="452.3" width="2.3" height="30.4" rx="0.8" fill="#ddd"/>
<rect x="695.6" y="452.3" width="2.3" height="30.4" rx="0.8" fill="#ddd"/>
<path d="M674.6 454.9L700 454.9"/>
<path d="M674.6 471.7L700 471.7"/>
<path d="M681.1 447.9Q682.3 454.7 681.1 461.5" stroke-width="1.9"/>
<path d="M681.1 447.9L685.8 452.1L685.8 457.3L681.1 461.5"/>
<rect x="682.2" y="450.3" width="2.6" height="8.8" rx="1" fill="#bbb" stroke-width="0.8"/>
<path d="M693.3 447.9Q692.1 454.7 693.3 461.5" stroke-width="1.9"/>
<path d="M693.3 447.9L688.6 452.1L688.6 457.3L693.3 461.5"/>
<rect x="689.6" y="450.3" width="2.6" height="8.8" rx="1" fill="#bbb" stroke-width="0.8"/>
<path d="M681.1 465.1Q682.3 471.9 681.1 478.7" stroke-width="1.9"/>
<path d="M681.1 465.1L685.8 469.3L685.8 474.5L681.1 478.7"/>
<rect x="682.2" y="467.5" width="2.6" height="8.8" rx="1" fill="#bbb" stroke-width="0.8"/>
<path d="M693.3 465.1Q692.1 471.9 693.3 478.7" stroke-width="1.9"/>
<path d="M693.3 465.1L688.6 469.3L688.6 474.5L693.3 478.7"/>
<rect x="689.6" y="467.5" width="2.6" height="8.8" rx="1" fill="#bbb" stroke-width="0.8"/>
<rect x="676.5" y="602.9" width="2.3" height="30.4" rx="0.8" fill="#ddd"/>
<rect x="695.6" y="602.9" width="2.3" height="30.4" rx="0.8" fill="#ddd"/>
<path d="M674.6 613.9L700 613.9"/>
<path d="M674.6 630.7L700 630.7"/>
<path d="M681.1 606.9Q682.3 613.7 681.1 620.5" stroke-width="1.9"/>
<path d="M681.1 606.9L685.8 611.1L685.8 616.3L681.1 620.5"/>
<rect x="682.2" y="609.3" width="2.6" height="8.8" rx="1" fill="#bbb" stroke-width="0.8"/>
<path d="M693.3 606.9Q692.1 613.7 693.3 620.5" stroke-width="1.9"/>
<path d="M693.3 606.9L688.6 611.1L688.6 616.3L693.3 620.5"/>
<rect x="689.6" y="609.3" width="2.6" height="8.8" rx="1" fill="#bbb" stroke-width="0.8"/>
<path d="M681.1 624.1Q682.3 630.9 681.1 637.7" stroke-width="1.9"/>
<path d="M681.1 624.1L685.8 628.3L685.8 633.5L681.1 637.7"/>
<rect x="682.2" y="626.5" width="2.6" height="8.8" rx="1" fill="#bbb" stroke-width="0.8"/>
<path d="M693.3 624.1Q692.1 630.9 693.3 637.7" stroke-width="1.9"/>
<path d="M693.3 624.1L688.6 628.3L688.6 633.5L693.3 637.7"/>
<rect x="689.6" y="626.5" width="2.6" height="8.8" rx="1" fill="#bbb" stroke-width="0.8"/>
<rect x="681" y="486.9" width="4.6" height="3.7" rx="0.9"/>
<rect x="681" y="491.9" width="4.6" height="3.7" rx="0.9"/>
<rect x="688.9" y="486.9" width="4.6" height="3.7" rx="0.9"/>
<rect x="688.9" y="491.9" width="4.6" height="3.7" rx="0.9"/>
<rect x="681" y="590.5" width="4.6" height="3.7" rx="0.9"/>
<rect x="681" y="595.5" width="4.6" height="3.7" rx="0.9"/>
<rect x="688.9" y="590.5" width="4.6" height="3.7" rx="0.9"/>
<rect x="688.9" y="595.5" width="4.6" height="3.7" rx="0.9"/>
<path d="M687.2 433.4L687.2 654.6" stroke-dasharray="30 3 4 3"/>
<rect x="681.4" y="503.7" width="11.6" height="12.6" fill="#fff"/>
<path d="M681.4 510.1L693 510.1"/>
<rect x="681.4" y="569.8" width="11.6" height="12.6" fill="#fff"/>
<path d="M681.4 576.2L693 576.2"/>
<path d="M687.2 503.7L687.2 516.3"/>
<path d="M687.2 569.8L687.2 582.4"/>
<path d="M57.6 622.3L87.1 622.3"/>
<path d="M318.2 622.3L347.7 622.3"/>
<rect x="437.7" y="615.1" width="2.3" height="14.4"/>
<path d="M440 615.6H454.5Q458 615.6 458 619.1V625.5Q458 629 454.5 629H440"/>
<path d="M440 618L454.6 618"/>
<path d="M440 626.6L454.6 626.6"/>
<path d="M454.6 615.6L454.6 629"/>
<rect x="673.7" y="615.1" width="2.3" height="14.4"/>
<path d="M673.7 615.6H657.1Q653.6 615.6 653.6 619.1V625.5Q653.6 629 657.1 629H673.7"/>
<path d="M673.7 618L657 618"/>
<path d="M673.7 626.6L657 626.6"/>
<path d="M657 615.6L657 629"/>
<path d="M409 622.3L460.6 622.3"/>
<path d="M409 463.3L444 463.3"/>
<path d="M676 622.3L771 622.3"/>
<path d="M669.6 463.3L771 463.3"/>
<path d="M691.6 438.4L785.4 438.4"/>
<path d="M691.6 647.8L785.4 647.8"/>
<path d="M782.9 438.4L782.9 647.8"/>
<path d="M782.9 438.4L783.8 442.9L782 442.9Z" fill="#3e3e3e" stroke-width="0.4"/>
<path d="M782.9 647.8L782 643.3L783.8 643.3Z" fill="#3e3e3e" stroke-width="0.4"/>
<path d="M768.2 463.3L768.2 622.3"/>
<path d="M768.2 463.3L769.1 467.8L767.3 467.8Z" fill="#3e3e3e" stroke-width="0.4"/>
<path d="M768.2 622.3L767.3 617.8L769.1 617.8Z" fill="#3e3e3e" stroke-width="0.4"/>
<path d="M753.4 510.1L753.4 576.2"/>
<path d="M753.4 510.1L754.3 514.6L752.5 514.6Z" fill="#3e3e3e" stroke-width="0.4"/>
<path d="M753.4 576.2L752.5 571.7L754.3 571.7Z" fill="#3e3e3e" stroke-width="0.4"/>
<text x="781.6" y="543.2" font-size="8" text-anchor="middle" transform="rotate(-90 781.6 543.2)" textLength="15.4" lengthAdjust="spacingAndGlyphs">2600</text>
<text x="767.2" y="543.2" font-size="8" text-anchor="middle" transform="rotate(-90 767.2 543.2)" textLength="15.4" lengthAdjust="spacingAndGlyphs">2000</text>
<text x="751.6" y="543.2" font-size="8" text-anchor="middle" transform="rotate(-90 751.6 543.2)" textLength="15.4" lengthAdjust="spacingAndGlyphs">1250</text>
</g>
</svg>
</body></html>
